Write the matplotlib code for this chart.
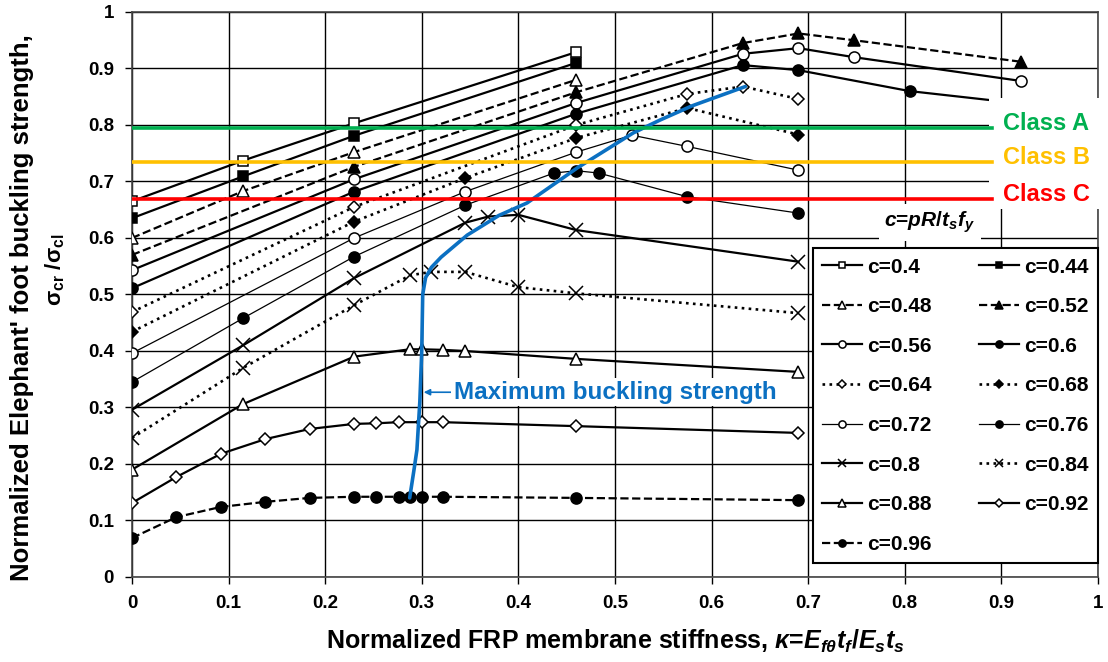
import matplotlib
matplotlib.use("Agg")
import matplotlib.pyplot as plt
from matplotlib.patches import Rectangle

plt.rcParams['font.family'] = ['Liberation Sans', 'DejaVu Sans']
plt.rcParams['font.weight'] = 'bold'
plt.rcParams['mathtext.fontset'] = 'custom'
plt.rcParams['mathtext.rm'] = 'Liberation Sans:bold'
plt.rcParams['mathtext.it'] = 'Liberation Sans:italic:bold'
plt.rcParams['mathtext.bf'] = 'Liberation Sans:bold'

# values
c_values = [0.4, 0.44, 0.48, 0.52, 0.56, 0.6, 0.64, 0.68, 0.72, 0.76, 0.8, 0.84, 0.88, 0.92, 0.96]

kappa = {
    0.4: [0, 0.115, 0.23, 0.46],
    0.44: [0, 0.115, 0.23, 0.46],
    0.48: [0, 0.115, 0.23, 0.46],
    0.52: [0, 0.23, 0.46, 0.6325, 0.69, 0.7475, 0.92],
    0.56: [0, 0.23, 0.46, 0.6325, 0.69, 0.7475, 0.92],
    0.6: [0, 0.23, 0.46, 0.6325, 0.69, 0.805, 0.92],
    0.64: [0, 0.23, 0.46, 0.575, 0.6325, 0.69],
    0.68: [0, 0.23, 0.345, 0.46, 0.575, 0.69],
    0.72: [0, 0.23, 0.345, 0.46, 0.5175, 0.575, 0.69],
    0.76: [0, 0.115, 0.23, 0.345, 0.437, 0.46, 0.483, 0.575, 0.69],
    0.8: [0, 0.115, 0.23, 0.345, 0.369, 0.40, 0.46, 0.69],
    0.84: [0, 0.115, 0.23, 0.288, 0.31, 0.345, 0.40, 0.46, 0.69],
    0.88: [0, 0.115, 0.23, 0.2875, 0.30, 0.322, 0.345, 0.46, 0.69],
    0.92: [0, 0.046, 0.092, 0.138, 0.184, 0.23, 0.253, 0.276, 0.30, 0.322, 0.46, 0.69],
    0.96: [0, 0.046, 0.092, 0.138, 0.184, 0.23, 0.253, 0.276, 0.2875, 0.30, 0.322, 0.46, 0.69],
}
strength = {
    0.4: [0.665, 0.737, 0.803, 0.929],
    0.44: [0.635, 0.709, 0.781, 0.91],
    0.48: [0.60, 0.683, 0.752, 0.88],
    0.52: [0.57, 0.726, 0.858, 0.945, 0.962, 0.95, 0.912],
    0.56: [0.543, 0.704, 0.839, 0.926, 0.936, 0.92, 0.878],
    0.6: [0.511, 0.682, 0.82, 0.906, 0.897, 0.86, 0.838],
    0.64: [0.469, 0.655, 0.80, 0.855, 0.868, 0.846],
    0.68: [0.434, 0.629, 0.706, 0.777, 0.83, 0.783],
    0.72: [0.396, 0.60, 0.682, 0.752, 0.782, 0.762, 0.72],
    0.76: [0.345, 0.458, 0.567, 0.658, 0.715, 0.719, 0.715, 0.673, 0.644],
    0.8: [0.296, 0.41, 0.529, 0.627, 0.638, 0.641, 0.614, 0.558],
    0.84: [0.246, 0.37, 0.481, 0.534, 0.54, 0.54, 0.513, 0.502, 0.467],
    0.88: [0.19, 0.306, 0.39, 0.403, 0.403, 0.402, 0.40, 0.386, 0.363],
    0.92: [0.131, 0.177, 0.218, 0.244, 0.262, 0.271, 0.272, 0.274, 0.274, 0.274, 0.267, 0.255],
    0.96: [0.069, 0.106, 0.124, 0.133, 0.14, 0.142, 0.142, 0.142, 0.142, 0.142, 0.142, 0.14, 0.136],
}

max_kappa = [0.2875, 0.292, 0.295, 0.298, 0.300, 0.301, 0.304, 0.310, 0.320, 0.347,
             0.38, 0.409, 0.461, 0.519, 0.547, 0.58, 0.635]
max_strength = [0.14, 0.19, 0.225, 0.31, 0.40, 0.50, 0.53, 0.548, 0.566, 0.605,
                0.64, 0.662, 0.724, 0.786, 0.809, 0.834, 0.868]

class_names = ['Class A', 'Class B', 'Class C']
class_levels = [0.795, 0.735, 0.669]
class_colors = ['#00b050', '#ffc000', '#ff0000']

# marker, face, linestyle, linewidth, markersize
styles = {
    0.4: ('s', 'white', '-', 1.6, 7.5),
    0.44: ('s', 'black', '-', 1.6, 7.5),
    0.48: ('^', 'white', '--', 1.6, 8.5),
    0.52: ('^', 'black', '--', 1.6, 8.5),
    0.56: ('o', 'white', '-', 1.6, 8),
    0.6: ('o', 'black', '-', 1.6, 8),
    0.64: ('D', 'white', ':', 1.9, 6.5),
    0.68: ('D', 'black', ':', 1.9, 6.5),
    0.72: ('o', 'white', '-', 0.9, 8),
    0.76: ('o', 'black', '-', 0.9, 8),
    0.8: ('x', 'black', '-', 1.6, 9.5),
    0.84: ('x', 'black', ':', 1.9, 9.5),
    0.88: ('^', 'white', '-', 1.6, 8.5),
    0.92: ('D', 'white', '-', 1.6, 6.5),
    0.96: ('o', 'black', '--', 1.6, 8),
}

fig = plt.figure(figsize=(11.08, 6.62), dpi=100)
ax = fig.add_axes([0.1191, 0.1284, 0.8718, 0.8535])

handles = {}
for c in c_values:
    m, face, ls, lw, ms = styles[c]
    line, = ax.plot(kappa[c], strength[c], marker=m, mfc=face, mec='black',
                    color='black', ls=ls, lw=lw, ms=ms, mew=1.1, zorder=3,
                    label='c=' + str(c))
    handles[c] = line

ax.plot(max_kappa, max_strength, color='#0b70c2', lw=2.6, zorder=5,
        solid_capstyle='round')

# white patch behind class labels
ax.add_patch(Rectangle((0.887, 0.652), 0.13, 0.195, fc='white', ec='none',
                       zorder=4, clip_on=False))
for name, lev, col in zip(class_names, class_levels, class_colors):
    ax.plot([0, 0.89], [lev, lev], color=col, lw=2.6, zorder=5)
    ax.text(0.902, lev + 0.008, name, color=col, fontsize=17, fontweight='bold',
            va='center', ha='left', zorder=6)

ax.text(0.826, 0.628, '$c$=$pR$/$t_sf_y$', fontsize=15, ha='center', va='center',
        zorder=6, bbox=dict(fc='white', ec='none', pad=4))

ax.annotate('Maximum buckling strength', xy=(0.302, 0.327), xytext=(0.333, 0.327),
            color='#0b70c2', fontsize=17.5, fontweight='bold', ha='left', va='center',
            zorder=6, bbox=dict(fc='white', ec='none', pad=2),
            arrowprops=dict(arrowstyle='-|>', color='#0b70c2', lw=1.2,
                            mutation_scale=9, shrinkA=0, shrinkB=0))

order = [0.4, 0.48, 0.56, 0.64, 0.72, 0.8, 0.88, 0.96,
         0.44, 0.52, 0.6, 0.68, 0.76, 0.84, 0.92]
leg = ax.legend([handles[c] for c in order], ['c=' + str(c) for c in order],
                ncol=2, loc='upper left', bbox_to_anchor=(0.705, 0.012, 0.295, 0.57),
                mode='expand', borderaxespad=0, fontsize=15, frameon=True,
                fancybox=False, edgecolor='black', framealpha=1,
                handlelength=1.9, handletextpad=0.25, columnspacing=1.4,
                labelspacing=0.99, markerscale=0.65, borderpad=0.45)
leg.get_frame().set_linewidth(1.5)
leg.set_zorder(7)

ax.set_xlim(0, 1)
ax.set_ylim(0, 1)
ticks = [i / 10 for i in range(11)]
ticklabels = ['0'] + ['%.1f' % t for t in ticks[1:-1]] + ['1']
ax.set_xticks(ticks)
ax.set_xticklabels(ticklabels)
ax.set_yticks(ticks)
ax.set_yticklabels(ticklabels)
ax.tick_params(labelsize=13.5, length=5, width=1, direction='out', pad=8)
ax.grid(True, color='black', lw=1.0)
ax.set_axisbelow(True)
for s in ax.spines.values():
    s.set_color('#444444')
    s.set_linewidth(1.2)

ax.set_xlabel('Normalized FRP membrane stiffness, $κ$=$E_{fθ}t_f$/$E_st_s$',
              fontsize=18, fontweight='bold', labelpad=11)
fig.text(0.02, 0.535, "Normalized Elephant' foot buckling strength,", rotation=90,
         fontsize=18.5, fontweight='bold', ha='center', va='center')
fig.text(0.05, 0.592, 'σ$_\\mathrm{cr}$ /σ$_\\mathrm{cl}$', rotation=90, fontsize=16,
         fontweight='bold', ha='center', va='center')

fig.savefig('out.png', dpi=100)
